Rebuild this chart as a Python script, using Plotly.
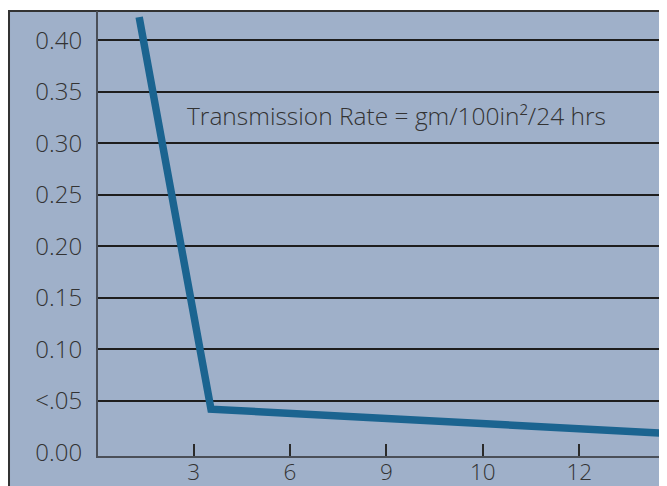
import plotly.graph_objects as go

# Data
x_positions = [0.435, 1.18, 5.84]
transmission_rate = [0.4225, 0.042, 0.0188]
x_tick_positions = [1, 2, 3, 4, 5]
x_tick_labels = ["3", "6", "9", "10", "12"]
y_tick_values = [0.00, 0.05, 0.10, 0.15, 0.20, 0.25, 0.30, 0.35, 0.40]
y_tick_labels = ["0.00", "<.05", "0.10", "0.15", "0.20", "0.25", "0.30", "0.35", "0.40"]
grid_values = [0.05, 0.10, 0.15, 0.20, 0.25, 0.30, 0.35, 0.40]
note_text = "Transmission Rate = gm/100in\u00b2/24 hrs"

BG = "#9fb0c9"
LINE = "#1b6490"
TEXT = "#333333"
FONT = "Open Sans"

fig = go.Figure()
fig.add_trace(go.Scatter(
    x=x_positions, y=transmission_rate, mode="lines",
    line=dict(color=LINE, width=7.5),
    hoverinfo="skip", showlegend=False,
))

fig.update_layout(
    width=659, height=478,
    margin=dict(l=90, r=0, t=3, b=30, autoexpand=False),
    paper_bgcolor="white",
    plot_bgcolor=BG,
    font=dict(family=FONT, size=24, color=TEXT, weight=300),
    showlegend=False,
    xaxis=dict(
        range=[0.008, 5.91], automargin=False,
        tickmode="array", tickvals=x_tick_positions, ticktext=x_tick_labels,
        ticks="inside", ticklen=12, tickwidth=2, tickcolor="#2a2a2a",
        showgrid=False, zeroline=False,
        showline=True, linecolor="#4a4f58", linewidth=2,
        ticklabelstandoff=-5,
        tickfont=dict(family=FONT, size=22.5, color=TEXT, weight=300),
        fixedrange=True,
    ),
    yaxis=dict(
        range=[-0.0035, 0.4285], automargin=False,
        tickmode="array", tickvals=y_tick_values, ticktext=y_tick_labels,
        ticks="", showgrid=False, zeroline=False,
        showline=True, linecolor="#4a4f58", linewidth=2,
        ticklabelstandoff=9,
        tickfont=dict(family=FONT, size=24, color=TEXT, weight=300),
        minor=dict(tickmode="array", tickvals=grid_values, showgrid=True,
                   gridcolor="#1e1e1e", gridwidth=2, ticks=""),
        fixedrange=True,
    ),
    shapes=[dict(
        type="rect", xref="paper", yref="paper",
        x0=-0.1564, x1=1.05, y0=-0.3, y1=1.0,
        fillcolor=BG, line=dict(color="#333333", width=2), layer="below",
    )],
    annotations=[dict(
        x=0.91, y=0.327, xref="x", yref="y", xanchor="left", yanchor="middle",
        text=note_text, showarrow=False,
        font=dict(family=FONT, size=24.5, color=TEXT, weight=300),
    )],
)

fig.write_html("out.html", config={"displayModeBar": False})
